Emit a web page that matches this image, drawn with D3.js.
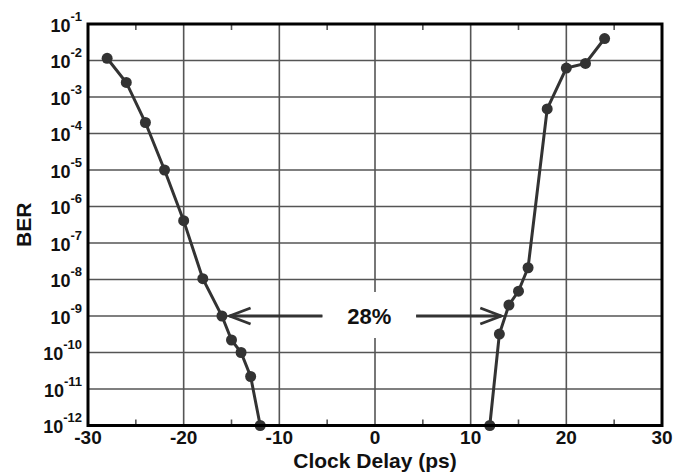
<!DOCTYPE html>
<html>
<head>
<meta charset="utf-8">
<script src="https://d3js.org/d3.v7.min.js"></script>
<style>
  body { margin: 0; background: #fff; }
  svg { display: block; font-family: "Liberation Sans", Arial, Helvetica, sans-serif; font-weight: bold; }
</style>
</head>
<body>
<div id="chart"></div>
<script>
// Left edge of the eye (clock delay in ps, BER)
var leftDelay = [-28, -26, -24, -22, -20, -18, -16, -15, -14, -13, -12];
var leftBER = [1.15e-2, 2.5e-3, 2.0e-4, 1.0e-5, 4.1e-7, 1.05e-8, 1.0e-9, 2.2e-10, 1.0e-10, 2.2e-11, 1e-12];

// Right edge of the eye
var rightDelay = [12, 13, 14, 15, 16, 18, 20, 22, 24];
var rightBER = [1e-12, 3.2e-10, 2.0e-9, 4.8e-9, 2.1e-8, 4.7e-4, 6.2e-3, 8.3e-3, 4.0e-2];

var xTicks = [-30, -20, -10, 0, 10, 20, 30];
var xMinorTicks = [-25, -15, -5, 5, 15, 25];
var yExponents = [-1, -2, -3, -4, -5, -6, -7, -8, -9, -10, -11, -12];

// annotation: eye opening at BER 1e-9
var eyeLabel = "28%";
var eyeBER = 1e-9;
var eyeLeftTip = -15.2, eyeLeftEnd = -5.5;
var eyeRightStart = 4.3, eyeRightTip = 13.2;

var W = 675, H = 474;
var margin = { top: 24, right: 13, bottom: 48.5, left: 88 };
var width = W - margin.left - margin.right;
var height = H - margin.top - margin.bottom;

var svg = d3.select("#chart").append("svg")
    .attr("width", W)
    .attr("height", H);

var g = svg.append("g")
    .attr("transform", `translate(${margin.left},${margin.top})`);

var x = d3.scaleLinear().domain([-30, 30]).range([0, width]);
var y = d3.scaleLog().domain([1e-12, 1e-1]).range([height, 0]);

var gridColor = "#555";
var inkColor = "#333";

// horizontal grid lines at every decade
g.selectAll(".hgrid")
    .data(yExponents.slice(1, -1))
    .enter().append("line")
    .attr("x1", 0).attr("x2", width)
    .attr("y1", d => y(Math.pow(10, d)))
    .attr("y2", d => y(Math.pow(10, d)))
    .style("stroke", gridColor)
    .style("stroke-width", 1.6);

// vertical grid lines
g.selectAll(".vgrid")
    .data(xTicks.slice(1, -1))
    .enter().append("line")
    .attr("x1", d => x(d)).attr("x2", d => x(d))
    .attr("y1", 0).attr("y2", height)
    .style("stroke", gridColor)
    .style("stroke-width", 1.6);

// minor ticks on top and bottom, pointing inward
xMinorTicks.forEach(t => {
    g.append("line")
        .attr("x1", x(t)).attr("x2", x(t))
        .attr("y1", 0).attr("y2", 6)
        .style("stroke", gridColor).style("stroke-width", 1.6);
    g.append("line")
        .attr("x1", x(t)).attr("x2", x(t))
        .attr("y1", height).attr("y2", height - 6)
        .style("stroke", gridColor).style("stroke-width", 1.6);
});

// white box behind the percentage label
var yEye = y(eyeBER);
g.append("rect")
    .attr("x", x(eyeLeftEnd))
    .attr("y", yEye - 24)
    .attr("width", x(eyeRightStart) - x(eyeLeftEnd))
    .attr("height", 46)
    .style("fill", "#fff");

// arrows
function arrow(from, to) {
    var tipX = x(to), dir = Math.sign(from - to);
    g.append("line")
        .attr("x1", x(from)).attr("x2", tipX)
        .attr("y1", yEye).attr("y2", yEye)
        .style("stroke", inkColor).style("stroke-width", 2.8);
    g.append("path")
        .attr("d", `M${tipX + dir * 21},${yEye - 8}L${tipX},${yEye}L${tipX + dir * 21},${yEye + 8}`)
        .style("fill", "none")
        .style("stroke", inkColor).style("stroke-width", 2.8);
}
arrow(eyeLeftEnd, eyeLeftTip);
arrow(eyeRightStart, eyeRightTip);

g.append("text")
    .attr("x", x((eyeLeftEnd + eyeRightStart) / 2))
    .attr("y", yEye + 7.5)
    .attr("text-anchor", "middle")
    .style("font-size", "22px")
    .style("fill", "#111")
    .text(eyeLabel);

// curves
var line = d3.line()
    .x(d => x(d[0]))
    .y(d => y(d[1]));

[[leftDelay, leftBER], [rightDelay, rightBER]].forEach(s => {
    var pts = d3.zip(s[0], s[1]);
    g.append("path")
        .datum(pts)
        .attr("d", line)
        .style("fill", "none")
        .style("stroke", inkColor)
        .style("stroke-width", 3);
    g.selectAll(null)
        .data(pts)
        .enter().append("circle")
        .attr("cx", d => x(d[0]))
        .attr("cy", d => y(d[1]))
        .attr("r", 5.5)
        .style("fill", inkColor);
});

// frame
g.append("rect")
    .attr("x", 0).attr("y", 0)
    .attr("width", width).attr("height", height)
    .style("fill", "none")
    .style("stroke", "#000")
    .style("stroke-width", 3);

// x tick labels
g.selectAll(".xlab")
    .data(xTicks)
    .enter().append("text")
    .attr("x", d => x(d))
    .attr("y", height + 18.5)
    .attr("text-anchor", "middle")
    .style("font-size", "19px")
    .style("fill", "#111")
    .text(d => d);

// y tick labels: 10 with superscript exponent
yExponents.forEach(e => {
    var t = g.append("text")
        .attr("x", -6)
        .attr("y", y(Math.pow(10, e)) + 7.5)
        .attr("text-anchor", "end")
        .style("fill", "#111");
    t.append("tspan").style("font-size", "18px").text("10");
    t.append("tspan").attr("dy", -11).style("font-size", "13px").text(e);
});

// axis titles
g.append("text")
    .attr("x", width / 2)
    .attr("y", height + 42)
    .attr("text-anchor", "middle")
    .style("font-size", "21px")
    .style("fill", "#111")
    .text("Clock Delay (ps)");

g.append("text")
    .attr("transform", `translate(${31 - margin.left},${height / 2}) rotate(-90)`)
    .attr("text-anchor", "middle")
    .style("font-size", "21px")
    .style("fill", "#111")
    .text("BER");
</script>
</body>
</html>
